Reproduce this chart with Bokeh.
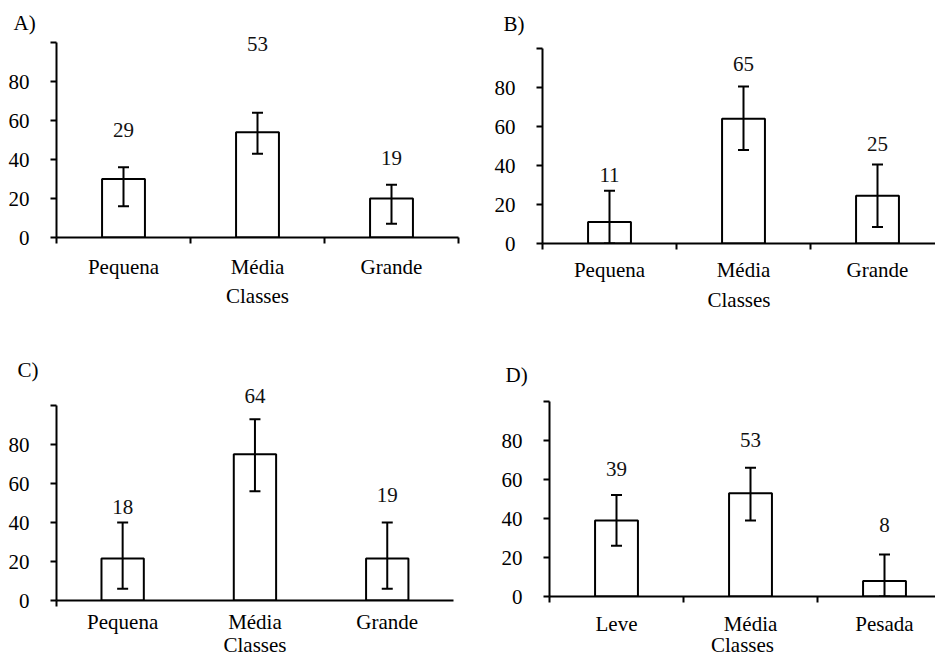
from bokeh.plotting import figure
from bokeh.layouts import column, row
from bokeh.models import Range1d, FixedTicker, Whisker, TeeHead, ColumnDataSource
from bokeh.core.properties import value
from bokeh.embed import file_html
from bokeh.resources import INLINE

# ---------------- data ----------------
size_classes = ["Pequena", "Média", "Grande"]
weight_classes = ["Leve", "Média", "Pesada"]
x_title = "Classes"

a_values = [30, 54, 20]
a_low = [16, 43, 7]
a_high = [36, 64, 27]
a_labels = ["29", "53", "19"]

b_values = [11, 64, 24.5]
b_low = [0, 48, 8.5]
b_high = [27, 80.5, 40.5]
b_labels = ["11", "65", "25"]

c_values = [21.5, 75, 21.5]
c_low = [6, 56, 6]
c_high = [40, 93, 40]
c_labels = ["18", "64", "19"]

d_values = [39, 53, 8]
d_low = [26, 39, 0]
d_high = [52, 66, 21.5]
d_labels = ["39", "53", "8"]

y_ticks = [0, 20, 40, 60, 80, 100]

# label heights (data units) where the annotation numbers sit
a_label_y = [55, 99, 41]
b_label_y = [35, 92, 51]
c_label_y = [48, 105, 54]
d_label_y = [65.5, 80.5, 36.5]

FONT = "Liberation Serif"
FS = "21px"
PX_PER_UNIT = 1.95


def panel(letter, cats, vals, low, high, labels, label_y, w, h,
          left, right, top, bottom, unit_px, minor, t_off, t_stand,
          lab_standoff, ax_standoff):
    frame_h = h - top - bottom
    frame_w = w - left - right
    y_end = frame_h / PX_PER_UNIT
    x_end = frame_w / unit_px
    p = figure(width=w, height=h, output_backend="svg", toolbar_location=None,
               x_range=Range1d(0, x_end), y_range=Range1d(0, y_end),
               min_border_left=left, min_border_right=right,
               min_border_top=top, min_border_bottom=bottom)
    p.frame_align = False
    p.outline_line_color = None
    p.grid.visible = False
    p.background_fill_color = "white"
    p.border_fill_color = "white"

    p.title.text = letter
    p.title.align = "left"
    p.title.offset = t_off
    p.title.text_font = FONT
    p.title.text_font_size = FS
    p.title.text_font_style = "normal"
    p.title.text_color = "black"
    p.title.standoff = t_stand

    xs = [i + 0.5 for i in range(len(cats))]
    src = ColumnDataSource(dict(x=xs, top=vals, low=low, high=high,
                                lab=labels, ly=label_y))
    p.vbar(x="x", top="top", width=0.32, source=src, fill_color="white",
           line_color="black", line_width=2)
    wh = Whisker(source=src, base="x", upper="high", lower="low",
                 line_color="black", line_width=2, level="overlay",
                 upper_head=TeeHead(size=11, line_color="black", line_width=2),
                 lower_head=TeeHead(size=11, line_color="black", line_width=2))
    p.add_layout(wh)
    p.text(x="x", y="ly", text="lab", source=src, text_align="center",
           text_baseline="middle", text_font=value(FONT), text_font_size=FS,
           text_color="#111111")

    xa = p.xaxis[0]
    xa.ticker = FixedTicker(ticks=xs, minor_ticks=minor)
    xa.major_label_overrides = {x: c for x, c in zip(xs, cats)}
    xa.major_tick_out = 0
    xa.major_tick_in = 0
    xa.minor_tick_out = 6
    xa.minor_tick_in = 0
    xa.minor_tick_line_color = "black"
    xa.minor_tick_line_width = 2
    xa.axis_line_width = 2
    xa.axis_line_color = "black"
    xa.major_label_text_font = FONT
    xa.major_label_text_font_size = FS
    xa.major_label_text_color = "black"
    xa.major_label_standoff = lab_standoff
    xa.axis_label = x_title
    xa.axis_label_text_font = FONT
    xa.axis_label_text_font_size = FS
    xa.axis_label_text_font_style = "normal"
    xa.axis_label_text_color = "black"
    xa.axis_label_standoff = ax_standoff

    ya = p.yaxis[0]
    ya.ticker = FixedTicker(ticks=y_ticks)
    ya.bounds = (0, 100)
    ya.major_label_overrides = {100: ""}
    ya.major_tick_out = 6
    ya.major_tick_in = 0
    ya.major_tick_line_width = 2
    ya.minor_tick_line_color = None
    ya.axis_line_width = 2
    ya.axis_line_color = "black"
    ya.major_tick_line_color = "black"
    ya.major_label_text_font = FONT
    ya.major_label_text_font_size = FS
    ya.major_label_text_color = "black"
    ya.major_label_standoff = 21
    return p


pa = panel("A)", size_classes, a_values, a_low, a_high, a_labels, a_label_y,
           468, 338, 56, 10, 33, 101, 134, [0, 1, 2, 3], -43, -3, 11, 2)
pb = panel("B)", size_classes, b_values, b_low, b_high, b_labels, b_label_y,
           467, 338, 74, 0, 38, 95, 134, [0, 1, 2], -39, 5, 8, 3)
pc = panel("C)", size_classes, c_values, c_low, c_high, c_labels, c_label_y,
           468, 321, 56, 15, 42, 59, 132.3, [0], -39, -2, 3, -4)
pd = panel("D)", weight_classes, d_values, d_low, d_high, d_labels, d_label_y,
           467, 321, 81, 0, 48, 63, 134, [0, 1, 2], -44, -1, 9, -6)

layout = column(row(pa, pb), row(pc, pd))
open("out.html", "w").write(file_html(layout, INLINE))
